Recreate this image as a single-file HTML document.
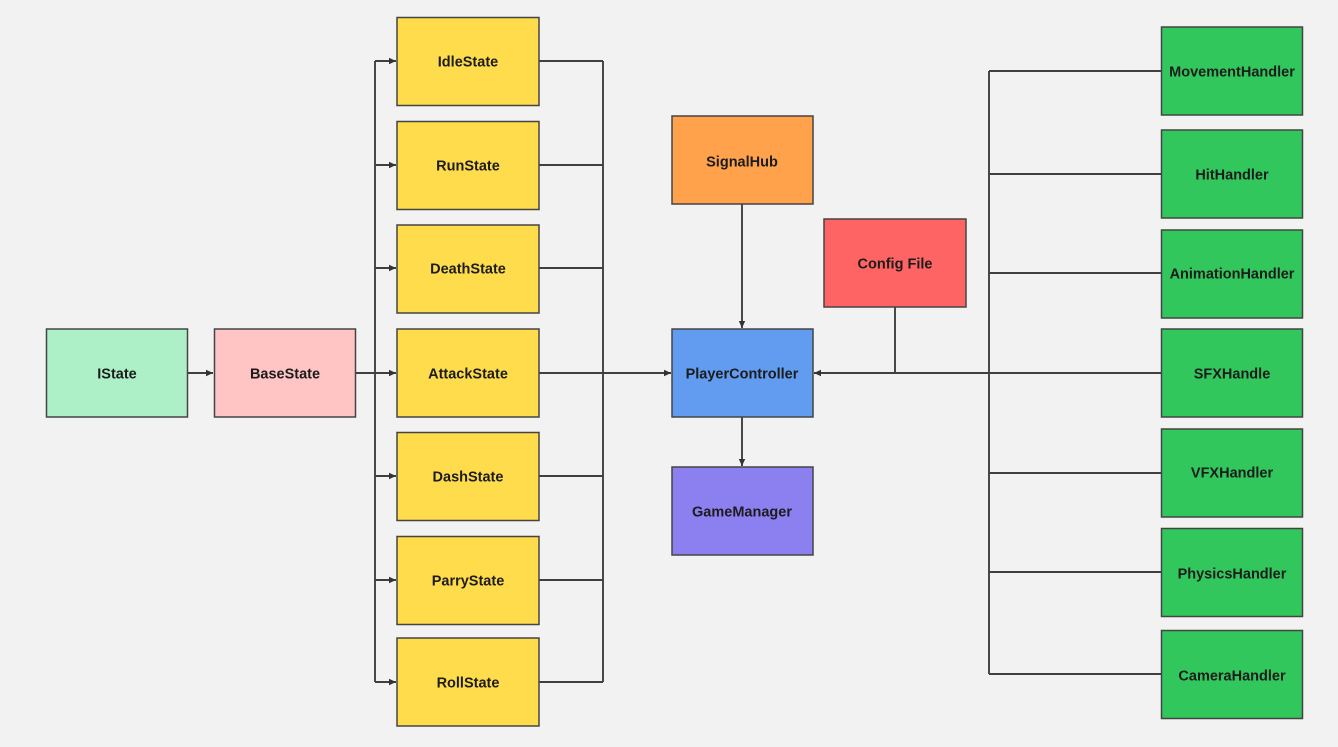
<!DOCTYPE html>
<html><head><meta charset="utf-8"><style>
html,body{margin:0;padding:0;background:#f2f2f2;}
svg{display:block;}
text{font-family:"Liberation Sans",sans-serif;font-weight:bold;font-size:14.5px;fill:#1c1c1c;text-anchor:middle;dominant-baseline:central;transform:translateY(1.5px);}
.b{stroke:#444;stroke-width:1.5;}
.l{stroke:#404040;stroke-width:1.9;fill:none;}
</style></head><body>
<svg width="1338" height="747" viewBox="0 0 1338 747" xmlns="http://www.w3.org/2000/svg">
<defs>
<marker id="a" markerWidth="8" markerHeight="8" refX="7" refY="4" orient="auto" markerUnits="userSpaceOnUse">
<path d="M0,0.8 L7,4 L0,7.2 Z" fill="#333"/>
</marker>
</defs>
<rect width="1338" height="747" fill="#f2f2f2"/>

<!-- connectors -->
<line class="l" x1="187" y1="373" x2="213" y2="373" marker-end="url(#a)"/>
<line class="l" x1="356" y1="373" x2="375" y2="373"/>
<line class="l" x1="375" y1="61" x2="375" y2="682"/>
<line class="l" x1="375" y1="61" x2="396" y2="61" marker-end="url(#a)"/>
<line class="l" x1="375" y1="165" x2="396" y2="165" marker-end="url(#a)"/>
<line class="l" x1="375" y1="268" x2="396" y2="268" marker-end="url(#a)"/>
<line class="l" x1="375" y1="373" x2="396" y2="373" marker-end="url(#a)"/>
<line class="l" x1="375" y1="476" x2="396" y2="476" marker-end="url(#a)"/>
<line class="l" x1="375" y1="580" x2="396" y2="580" marker-end="url(#a)"/>
<line class="l" x1="375" y1="682" x2="396" y2="682" marker-end="url(#a)"/>

<line class="l" x1="539" y1="61" x2="603" y2="61"/>
<line class="l" x1="539" y1="165" x2="603" y2="165"/>
<line class="l" x1="539" y1="268" x2="603" y2="268"/>
<line class="l" x1="539" y1="476" x2="603" y2="476"/>
<line class="l" x1="539" y1="580" x2="603" y2="580"/>
<line class="l" x1="539" y1="682" x2="603" y2="682"/>
<line class="l" x1="603" y1="61" x2="603" y2="682"/>
<line class="l" x1="539" y1="373" x2="671" y2="373" marker-end="url(#a)"/>

<line class="l" x1="742" y1="204" x2="742" y2="328" marker-end="url(#a)"/>
<line class="l" x1="742" y1="417" x2="742" y2="466" marker-end="url(#a)"/>

<line class="l" x1="895" y1="307" x2="895" y2="373"/>
<line class="l" x1="1161" y1="373" x2="814" y2="373" marker-end="url(#a)"/>
<line class="l" x1="989" y1="71" x2="989" y2="674"/>
<line class="l" x1="989" y1="71" x2="1161" y2="71"/>
<line class="l" x1="989" y1="174" x2="1161" y2="174"/>
<line class="l" x1="989" y1="273" x2="1161" y2="273"/>
<line class="l" x1="989" y1="473" x2="1161" y2="473"/>
<line class="l" x1="989" y1="572" x2="1161" y2="572"/>
<line class="l" x1="989" y1="674" x2="1161" y2="674"/>

<!-- nodes -->
<rect class="b" x="46.5" y="329" width="141" height="88" fill="#adf0c8"/>
<text x="117" y="373">IState</text>
<rect class="b" x="214.5" y="329" width="141" height="88" fill="#ffc5c5"/>
<text x="285" y="373">BaseState</text>

<rect class="b" x="397" y="17.5" width="142" height="88" fill="#ffdc4b"/>
<text x="468" y="61">IdleState</text>
<rect class="b" x="397" y="121.5" width="142" height="88" fill="#ffdc4b"/>
<text x="468" y="165">RunState</text>
<rect class="b" x="397" y="225" width="142" height="88" fill="#ffdc4b"/>
<text x="468" y="268">DeathState</text>
<rect class="b" x="397" y="329" width="142" height="88" fill="#ffdc4b"/>
<text x="468" y="373">AttackState</text>
<rect class="b" x="397" y="432.5" width="142" height="88" fill="#ffdc4b"/>
<text x="468" y="476">DashState</text>
<rect class="b" x="397" y="536.5" width="142" height="88" fill="#ffdc4b"/>
<text x="468" y="580">ParryState</text>
<rect class="b" x="397" y="638" width="142" height="88" fill="#ffdc4b"/>
<text x="468" y="682">RollState</text>

<rect class="b" x="672" y="116" width="141" height="88" fill="#ffa24b"/>
<text x="742" y="161">SignalHub</text>
<rect class="b" x="672" y="329" width="141" height="88" fill="#629cf1"/>
<text x="742" y="373">PlayerController</text>
<rect class="b" x="672" y="467" width="141" height="88" fill="#8c7ff0"/>
<text x="742" y="511">GameManager</text>
<rect class="b" x="824" y="219" width="142" height="88" fill="#ff6464"/>
<text x="895" y="263">Config File</text>

<rect class="b" x="1161.5" y="27" width="141" height="88" fill="#31c75c"/>
<text x="1232" y="71">MovementHandler</text>
<rect class="b" x="1161.5" y="130" width="141" height="88" fill="#31c75c"/>
<text x="1232" y="174">HitHandler</text>
<rect class="b" x="1161.5" y="230" width="141" height="88" fill="#31c75c"/>
<text x="1232" y="273">AnimationHandler</text>
<rect class="b" x="1161.5" y="329" width="141" height="88" fill="#31c75c"/>
<text x="1232" y="373">SFXHandle</text>
<rect class="b" x="1161.5" y="429" width="141" height="88" fill="#31c75c"/>
<text x="1232" y="472">VFXHandler</text>
<rect class="b" x="1161.5" y="528.5" width="141" height="88" fill="#31c75c"/>
<text x="1232" y="573">PhysicsHandler</text>
<rect class="b" x="1161.5" y="630.5" width="141" height="88" fill="#31c75c"/>
<text x="1232" y="675">CameraHandler</text>
</svg>
</body></html>
